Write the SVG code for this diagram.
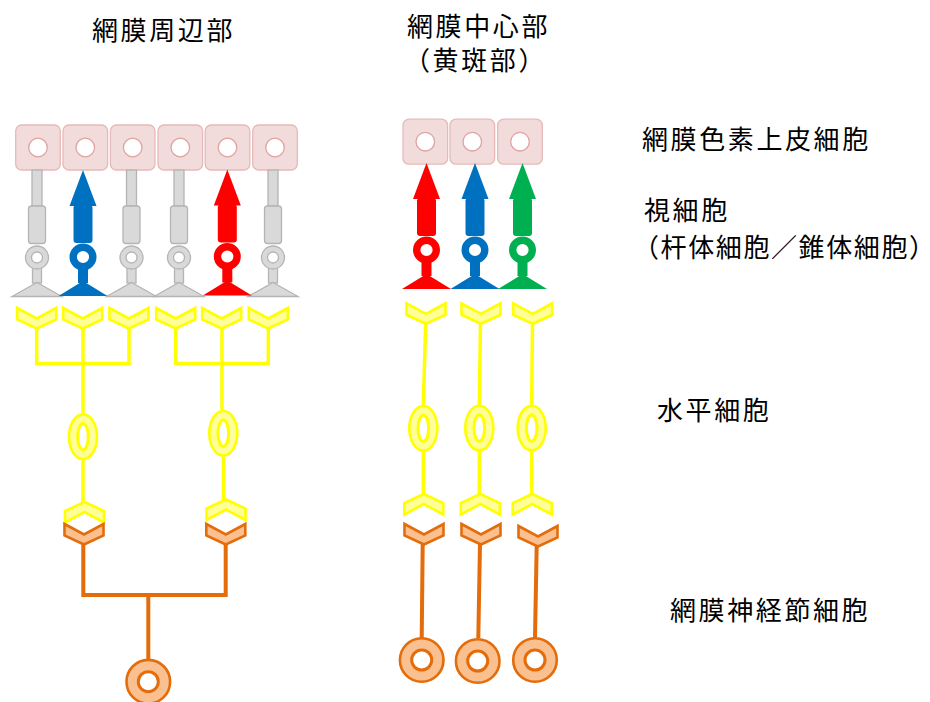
<svg xmlns="http://www.w3.org/2000/svg" xmlns:xlink="http://www.w3.org/1999/xlink" width="930" height="702" viewBox="0 0 930 702">
  <style>
    text { font-family: "Noto Sans CJK JP", "Noto Sans CJK SC", sans-serif; font-size: 26px; letter-spacing: 2.6px; fill: #000; }
    .tight { letter-spacing: 1.6px; }
    .epi-box { fill: #f2dcdb; stroke: #e6b9b8; stroke-width: 1.3; }
    .epi-nuc { fill: #fff; stroke: #dfa3a1; stroke-width: 1.3; }
    .rod { fill: #d9d9d9; stroke: #b4b4b4; stroke-width: 1.3; }
    .rod-hole { fill: #fff; stroke: #b4b4b4; stroke-width: 1.3; }
    .yel { fill: #ffff99; stroke: #ffff00; stroke-width: 2.6; stroke-linejoin: miter; }
    .org { fill: #fac090; stroke: #e46c0a; stroke-width: 2.6; stroke-linejoin: miter; }
    .hole-y { fill: #fff; stroke: #ffff00; stroke-width: 3; }
    .hole-o { fill: #fff; stroke: #e46c0a; stroke-width: 3; }
    .wire-y { fill: none; stroke: #ffff00; stroke-width: 3.5; }
    .wire-o { fill: none; stroke: #e46c0a; stroke-width: 4; }
  </style>
  <defs>
    <!-- pigment epithelium cell, centred on its nucleus -->
    <g id="epi">
      <rect class="epi-box" x="-22.3" y="-22.5" width="44.6" height="45" rx="6"/>
      <circle class="epi-nuc" cx="0" cy="0" r="9.3"/>
    </g>
    <!-- rod, origin at the top of the outer segment -->
    <g id="rod">
      <rect class="rod" x="-4.5" y="98" width="9" height="15"/>
      <polygon class="rod" points="0,112.5 25,126.5 -25,126.5"/>
      <rect class="rod" x="-5" y="0" width="10" height="36"/>
      <rect class="rod" x="-8.5" y="36" width="17" height="37.5" rx="3"/>
      <circle class="rod" cx="0" cy="87.5" r="11.5"/>
      <circle class="rod-hole" cx="0" cy="87.5" r="5.5"/>
    </g>
    <!-- cone, origin at the arrow tip; colour comes from currentColor -->
    <g id="cone">
      <rect x="-5" y="96" width="10" height="17" fill="currentColor"/>
      <polygon points="0,111 24.5,126 -24.5,126" fill="currentColor"/>
      <polygon points="0,0 13.5,36 -13.5,36" fill="currentColor"/>
      <rect x="-9.5" y="35" width="19" height="38" rx="3" fill="currentColor"/>
      <circle cx="0" cy="87" r="9.8" fill="#fff" stroke="currentColor" stroke-width="7.4"/>
    </g>
    <!-- synaptic chevrons: down-pointing and up-pointing -->
    <path id="chev-down" d="M-19.5,0 L0,10.5 L19.5,0 L19.5,11.5 L0,20.5 L-19.5,11.5 Z"/>
    <path id="chev-up" d="M-19.5,20.5 L0,10 L19.5,20.5 L19.5,9 L0,0 L-19.5,9 Z"/>
    <!-- bipolar soma -->
    <g id="soma-y">
      <ellipse class="yel" cx="0" cy="0" rx="14" ry="22.3" stroke-width="3"/>
      <ellipse class="hole-y" cx="0" cy="0" rx="5.3" ry="13.2"/>
    </g>
    <!-- ganglion soma -->
    <g id="soma-o">
      <circle class="org" cx="0" cy="0" r="21.8" stroke-width="3"/>
      <circle class="hole-o" cx="0" cy="0" r="10"/>
    </g>
  </defs>

  <!-- headings -->
  <g id="titles">
    <text x="92" y="40">網膜周辺部</text>
    <text x="407" y="36">網膜中心部</text>
    <text x="404" y="70">（黄斑部）</text>
  </g>

  <!-- layer labels -->
  <g id="labels">
    <text x="642" y="148.5">網膜色素上皮細胞</text>
    <text x="644" y="220">視細胞</text>
    <text class="tight" x="633" y="256.5">（杆体細胞／錐体細胞）</text>
    <text x="657" y="420">水平細胞</text>
    <text x="670" y="620">網膜神経節細胞</text>
  </g>

  <!-- processes linking the cell layers -->
  <g id="connectors">
    <!-- periphery: bipolar dendrites converging -->
    <polyline class="wire-y" points="36.7,327 36.7,363.5 129,363.5 129,327"/>
    <line class="wire-y" x1="83" y1="327" x2="83" y2="413"/>
    <polyline class="wire-y" points="175.7,327 175.7,363.5 268.3,363.5 268.3,327"/>
    <line class="wire-y" x1="222" y1="327" x2="222" y2="410"/>
    <!-- periphery: bipolar axons -->
    <line class="wire-y" x1="83" y1="460" x2="83" y2="503"/>
    <line class="wire-y" x1="223.5" y1="457" x2="223.5" y2="500"/>
    <!-- periphery: ganglion dendrites -->
    <polyline class="wire-o" points="83.3,542 83.3,595 225.7,595 225.7,542"/>
    <line class="wire-o" x1="148.3" y1="595" x2="148.3" y2="659"/>
    <!-- centre: one-to-one chains -->
    <line class="wire-y" x1="425.7" y1="322" x2="423.3" y2="406"/>
    <line class="wire-y" x1="480.5" y1="322" x2="479.3" y2="406"/>
    <line class="wire-y" x1="532.5" y1="322" x2="531.7" y2="406"/>
    <line class="wire-y" x1="423.3" y1="451" x2="423.3" y2="495"/>
    <line class="wire-y" x1="479.3" y1="451" x2="479.3" y2="495"/>
    <line class="wire-y" x1="531.7" y1="451" x2="531.7" y2="495"/>
    <line class="wire-o" x1="422.7" y1="543" x2="421.7" y2="638"/>
    <line class="wire-o" x1="480" y1="543" x2="478.3" y2="638"/>
    <line class="wire-o" x1="536.7" y1="545" x2="535" y2="638"/>
  </g>

  <!-- retinal periphery -->
  <g id="periphery">
    <g id="rpe-p1"><use xlink:href="#epi" transform="translate(38,147.5)"/></g>
    <g id="rpe-p2"><use xlink:href="#epi" transform="translate(85.3,147.5)"/></g>
    <g id="rpe-p3"><use xlink:href="#epi" transform="translate(132.7,147.5)"/></g>
    <g id="rpe-p4"><use xlink:href="#epi" transform="translate(180.3,147.5)"/></g>
    <g id="rpe-p5"><use xlink:href="#epi" transform="translate(227.5,147.5)"/></g>
    <g id="rpe-p6"><use xlink:href="#epi" transform="translate(275,147.5)"/></g>

    <g id="rod-p1"><use xlink:href="#rod" transform="translate(37,170)"/></g>
    <g id="rod-p3"><use xlink:href="#rod" transform="translate(131.5,170)"/></g>
    <g id="rod-p4"><use xlink:href="#rod" transform="translate(179,170)"/></g>
    <g id="rod-p6"><use xlink:href="#rod" transform="translate(273,170)"/></g>
    <g id="cone-p2-blue"><use xlink:href="#cone" color="#0070c0" transform="translate(83,170)"/></g>
    <g id="cone-p5-red"><use xlink:href="#cone" color="#ff0000" transform="translate(227.3,169.5)"/></g>

    <g id="bipolar-p1">
      <use xlink:href="#chev-down" class="yel" transform="translate(36.7,308)"/>
      <use xlink:href="#chev-down" class="yel" transform="translate(82.7,308)"/>
      <use xlink:href="#chev-down" class="yel" transform="translate(129,308)"/>
      <use xlink:href="#soma-y" transform="translate(83,436.7)"/>
      <use xlink:href="#chev-up" class="yel" transform="translate(84.5,502)"/>
    </g>
    <g id="bipolar-p2">
      <use xlink:href="#chev-down" class="yel" transform="translate(175.7,308)"/>
      <use xlink:href="#chev-down" class="yel" transform="translate(221.7,308)"/>
      <use xlink:href="#chev-down" class="yel" transform="translate(268.3,308)"/>
      <use xlink:href="#soma-y" transform="translate(223.3,433.3)"/>
      <use xlink:href="#chev-up" class="yel" transform="translate(226,499.5)"/>
    </g>

    <g id="ganglion-p1">
      <use xlink:href="#chev-down" class="org" transform="translate(84,524)"/>
      <use xlink:href="#chev-down" class="org" transform="translate(225.8,524)"/>
      <use xlink:href="#soma-o" transform="translate(148.3,681.7)"/>
    </g>
  </g>

  <!-- macula -->
  <g id="macula">
    <g id="rpe-c1"><use xlink:href="#epi" transform="translate(425.3,141.7)"/></g>
    <g id="rpe-c2"><use xlink:href="#epi" transform="translate(472.3,141.7)"/></g>
    <g id="rpe-c3"><use xlink:href="#epi" transform="translate(520,141.7)"/></g>

    <g id="cone-c1-red"><use xlink:href="#cone" color="#ff0000" transform="translate(426.5,163)"/></g>
    <g id="cone-c2-blue"><use xlink:href="#cone" color="#0070c0" transform="translate(475,163)"/></g>
    <g id="cone-c3-green"><use xlink:href="#cone" color="#00b050" transform="translate(522.5,163)"/></g>

    <g id="bipolar-c1">
      <use xlink:href="#chev-down" class="yel" transform="translate(426,303.3)"/>
      <use xlink:href="#soma-y" transform="translate(423.3,428.3)"/>
      <use xlink:href="#chev-up" class="yel" transform="translate(423.8,494)"/>
    </g>
    <g id="bipolar-c2">
      <use xlink:href="#chev-down" class="yel" transform="translate(481,303.3)"/>
      <use xlink:href="#soma-y" transform="translate(479.3,428)"/>
      <use xlink:href="#chev-up" class="yel" transform="translate(480.3,494)"/>
    </g>
    <g id="bipolar-c3">
      <use xlink:href="#chev-down" class="yel" transform="translate(532.7,303.3)"/>
      <use xlink:href="#soma-y" transform="translate(531.7,428)"/>
      <use xlink:href="#chev-up" class="yel" transform="translate(532.2,494)"/>
    </g>

    <g id="ganglion-c1">
      <use xlink:href="#chev-down" class="org" transform="translate(424,524)"/>
      <use xlink:href="#soma-o" transform="translate(421.7,660)"/>
    </g>
    <g id="ganglion-c2">
      <use xlink:href="#chev-down" class="org" transform="translate(481,524)"/>
      <use xlink:href="#soma-o" transform="translate(477.7,661)"/>
    </g>
    <g id="ganglion-c3">
      <use xlink:href="#chev-down" class="org" transform="translate(538,526)"/>
      <use xlink:href="#soma-o" transform="translate(535,660)"/>
    </g>
  </g>
</svg>
